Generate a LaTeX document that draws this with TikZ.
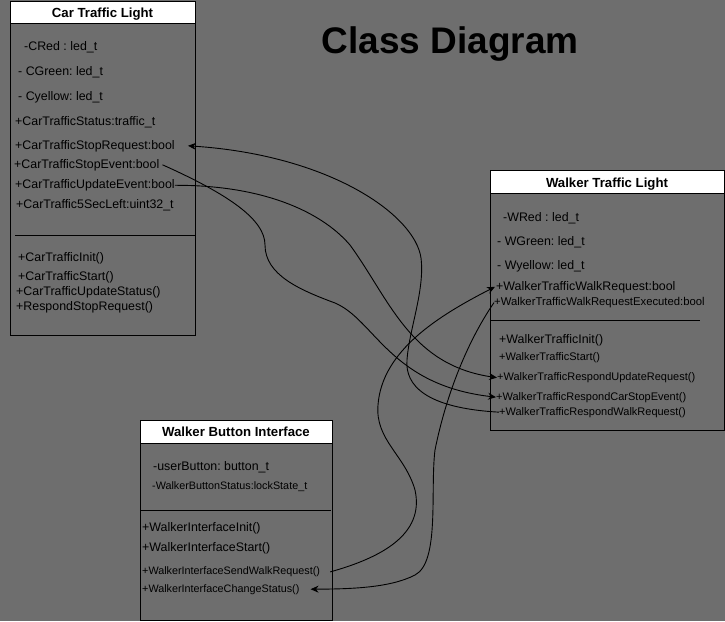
\documentclass[tikz,border=0pt]{standalone}
\usepackage{fontspec}
\setmainfont{Liberation Sans}
\usetikzlibrary{arrows.meta}
\definecolor{bg}{HTML}{6E6E6E}
\frenchspacing
\tikzset{
  box/.style={draw=black, line width=1pt},
  hdr/.style={draw=black, fill=white, line width=1pt},
  sepline/.style={draw=black, line width=1pt},
  txt/.style={inner sep=0pt, anchor=base west, font=\fontsize{12.4}{14}\selectfont},
  txts/.style={inner sep=0pt, anchor=base west, font=\fontsize{11}{13}\selectfont},
  txtxs/.style={inner sep=0pt, anchor=base west, font=\fontsize{10.8}{13}\selectfont},
  ttl/.style={inner sep=0pt, anchor=base, font=\bfseries\fontsize{13.2}{15}\selectfont},
  conn/.style={draw=black, line width=0.9pt},
  arr/.style={-{Stealth[length=8pt,width=7pt]}}
}
\begin{document}
\begin{tikzpicture}[x=1pt,y=-1pt]
\fill[bg] (0,0) rectangle (725,621);
\useasboundingbox (0,0) rectangle (725,621);

% title
\node[inner sep=0pt, anchor=base, font=\bfseries\fontsize{37}{40}\selectfont] (title) at (450,53.5) {Class Diagram};

% Car Traffic Light box
\draw[box] (10,1) rectangle (195,335);
\draw[hdr] (10,1) rectangle (195,23);
\draw[sepline] (15,235.5) -- (195,235.5);
\node[ttl] (carT) at (102.5,17.3) {Car Traffic Light};

% Walker Traffic Light box
\draw[box] (490.5,170) rectangle (724,430.5);
\draw[hdr] (490.5,170) rectangle (724,193.5);
\draw[sepline] (490.5,320.5) -- (700,320.5);
\node[ttl] (walkT) at (607,187) {Walker Traffic Light};

% Walker Button Interface box
\draw[box] (140,420) rectangle (332.5,620);
\draw[hdr] (140,420) rectangle (332.5,443);
\draw[sepline] (140,510.5) -- (331,510.5);
\node[ttl] (btnT) at (236,436.7) {Walker Button Interface};

% Car texts
\node[txt] (c1) at (24,50) {-CRed : led\_t};
\node[txt] (c2) at (18,75) {- CGreen: led\_t};
\node[txt] (c3) at (18,100) {- Cyellow: led\_t};
\node[txt] (c4) at (15,125) {+CarTrafficStatus:traffic\_t};
\node[txt] (creq) at (15,149) {+CarTrafficStopRequest:bool};
\node[txt] (cevt) at (14,168) {+CarTrafficStopEvent:bool};
\node[txt] (cupd) at (15,188.5) {+CarTrafficUpdateEvent:bool};
\node[txt] (c8) at (16,208) {+CarTraffic5SecLeft:uint32\_t};
\node[txt] (c9) at (18,261) {+CarTrafficInit()};
\node[txt] (c10) at (18,280) {+CarTrafficStart()};
\node[txt] (c11) at (16,295) {+CarTrafficUpdateStatus()};
\node[txt] (c12) at (16,310) {+RespondStopRequest()};

% Walker texts
\node[txt] (w1) at (503,221) {-WRed : led\_t};
\node[txt] (w2) at (497,245.5) {- WGreen: led\_t};
\node[txt] (w3) at (497,269.5) {- Wyellow: led\_t};
\node[txt] (wreq) at (496,290) {+WalkerTrafficWalkRequest:bool};
\node[inner sep=0pt, anchor=base west, font=\fontsize{11.3}{13}\selectfont] (wexe) at (494,305.5) {+WalkerTrafficWalkRequestExecuted:bool};
\node[txt] (wini) at (499,343) {+WalkerTrafficInit()};
\node[txts] (wsta) at (499,360) {+WalkerTrafficStart()};
\node[txts] (wupd) at (497,380.5) {+WalkerTrafficRespondUpdateRequest()};
\node[txts] (wcse) at (496,400) {+WalkerTrafficRespondCarStopEvent()};
\node[txts] (wrwr) at (499,415) {+WalkerTrafficRespondWalkRequest()};

% Button texts
\node[txt] (b1) at (153,470) {-userButton: button\_t};
\node[txtxs] (b2) at (152,489.7) {-WalkerButtonStatus:lockState\_t};
\node[txt] (b3) at (142,531) {+WalkerInterfaceInit()};
\node[txt] (b4) at (142,551) {+WalkerInterfaceStart()};
\node[txtxs] (bsend) at (142,574.7) {+WalkerInterfaceSendWalkRequest()};
\node[txtxs] (bchg) at (142,592) {+WalkerInterfaceChangeStatus()};

% connectors
\draw[conn,arr] (wrwr.west) .. controls (425,408) and (405,385) .. (407,360)
  .. controls (409,330) and (425,290) .. (421,258)
  .. controls (415,215) and (330,155) .. ([xshift=13pt]creq.east);
\draw[conn,arr] ([xshift=3pt]cevt.east) .. controls (230,195) and (265,220) .. (265,245)
  .. controls (265,275) and (300,290) .. (335,303)
  .. controls (375,320) and (390,385) .. (wcse.west);
\draw[conn,arr] (cupd.east) .. controls (260,185) and (320,210) .. (350,245)
  .. controls (390,300) and (410,365) .. (wupd.west);
\draw[conn,arr] ([xshift=10pt]bsend.east) .. controls (380,558) and (425,535) .. (415,490)
  .. controls (405,455) and (375,440) .. (378,405)
  .. controls (382,350) and (440,315) .. ([xshift=-1pt]wreq.west);
\draw[conn,arr] (wexe.west) .. controls (465,345) and (445,400) .. (435,450)
  .. controls (430,490) and (440,562) .. (415,575)
  .. controls (390,588) and (350,589) .. ([xshift=11pt]bchg.east);
\end{tikzpicture}
\end{document}
